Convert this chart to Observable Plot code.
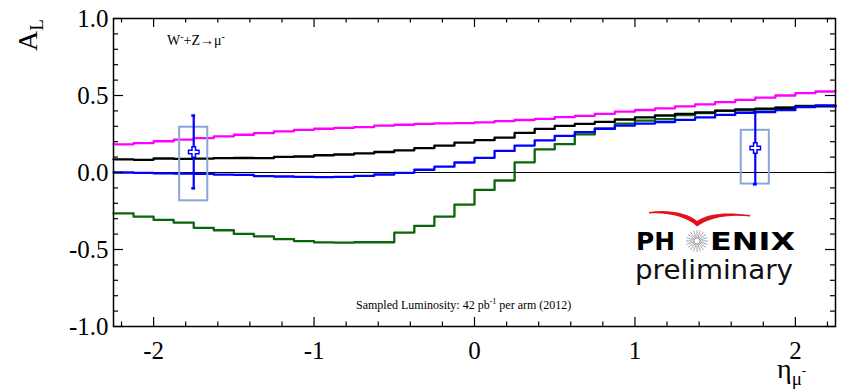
<!DOCTYPE html>
<html>
<head>
<meta charset="utf-8">
<script src="https://cdn.jsdelivr.net/npm/d3@7"></script>
<script src="https://cdn.jsdelivr.net/npm/@observablehq/plot@0.6"></script>
<style>
  html, body { margin: 0; padding: 0; background: #fff; }
  #chart { width: 843px; height: 392px; }
</style>
</head>
<body>
<div id="chart"></div>
<script>
// ---- Data ----
const binLow = -2.25;
const binWidth = 0.125;

const magentaAL = [0.183, 0.191, 0.203, 0.213, 0.223, 0.235, 0.245, 0.256, 0.267, 0.277,
  0.284, 0.290, 0.295, 0.305, 0.310, 0.316, 0.319, 0.321, 0.326, 0.334,
  0.341, 0.348, 0.359, 0.368, 0.381, 0.395, 0.406, 0.417, 0.430, 0.443,
  0.457, 0.472, 0.486, 0.500, 0.515, 0.526];

const blackAL = [0.085, 0.082, 0.091, 0.088, 0.090, 0.093, 0.094, 0.093, 0.101, 0.104,
  0.112, 0.117, 0.124, 0.133, 0.144, 0.158, 0.175, 0.194, 0.210, 0.226,
  0.257, 0.283, 0.303, 0.316, 0.329, 0.344, 0.358, 0.370, 0.381, 0.391,
  0.402, 0.410, 0.415, 0.420, 0.430, 0.430];

const blueAL = [0.000, -0.002, -0.006, -0.007, -0.009, -0.014, -0.015, -0.024, -0.026, -0.028,
  -0.030, -0.029, -0.022, -0.013, -0.002, 0.018, 0.038, 0.065, 0.095, 0.140,
  0.175, 0.208, 0.238, 0.262, 0.284, 0.305, 0.318, 0.328, 0.342, 0.358,
  0.374, 0.388, 0.393, 0.405, 0.425, 0.435];

const greenAL = [-0.266, -0.287, -0.308, -0.326, -0.359, -0.375, -0.399, -0.415, -0.433, -0.445,
  -0.454, -0.456, -0.453, -0.453, -0.390, -0.346, -0.286, -0.208, -0.113, -0.052,
  0.066, 0.150, 0.184, 0.247, 0.284, 0.318, 0.337, 0.346, 0.372, 0.386,
  0.400, 0.405, 0.410, 0.422, 0.433, 0.433];

// measured points
const ptEta   = [-1.75, 1.75];
const ptAL    = [0.133, 0.159];
const statLo  = [-0.103, -0.077];
const statHi  = [0.370, 0.391];
const sysLo   = [-0.184, -0.075];
const sysHi   = [0.294, 0.274];
const sysHalfWidth = 0.0875;

// ticks
const xMajor = [-2, -1, 0, 1, 2];
const xMinor = [-2.2, -1.8, -1.6, -1.4, -1.2, -0.8, -0.6, -0.4, -0.2, 0.2, 0.4, 0.6, 0.8, 1.2, 1.4, 1.6, 1.8, 2.2];
const yMajor = [-1, -0.5, 0, 0.5, 1];
const yMinor = [-0.9, -0.8, -0.7, -0.6, -0.4, -0.3, -0.2, -0.1, 0.1, 0.2, 0.3, 0.4, 0.6, 0.7, 0.8, 0.9];

// ---- Build step rows ----
function steps(vals) {
  const rows = vals.map((v, i) => ({x: binLow + i * binWidth, y: v}));
  rows.push({x: binLow + vals.length * binWidth, y: vals[vals.length - 1]});
  return rows;
}
const points = ptEta.map((e, i) => ({eta: e, al: ptAL[i], lo: statLo[i], hi: statHi[i], slo: sysLo[i], shi: sysHi[i]}));

const W = 843, H = 392;
const mL = 113, mR = 8, mT = 18, mB = 66;
const fw = W - mL - mR, fh = H - mT - mB;

const chart = Plot.plot({
  width: W, height: H,
  marginLeft: mL, marginRight: mR, marginTop: mT, marginBottom: mB,
  style: {fontFamily: "'Liberation Serif', 'DejaVu Serif', serif", fontSize: "25px", background: "#fff", color: "#000"},
  x: {domain: [-2.25, 2.25]},
  y: {domain: [-1, 1]},
  marks: [
    Plot.ruleY([0], {stroke: "#000", strokeWidth: 1}),
    Plot.line(steps(greenAL), {x: "x", y: "y", curve: "step-after", stroke: "#0b650b", strokeWidth: 2.3}),
    Plot.line(steps(blackAL), {x: "x", y: "y", curve: "step-after", stroke: "#000", strokeWidth: 2.3}),
    Plot.line(steps(blueAL), {x: "x", y: "y", curve: "step-after", stroke: "#0000ff", strokeWidth: 2.3}),
    Plot.line(steps(magentaAL), {x: "x", y: "y", curve: "step-after", stroke: "#ff00ff", strokeWidth: 2.3}),
    Plot.rect(points, {x1: d => d.eta - sysHalfWidth, x2: d => d.eta + sysHalfWidth, y1: "slo", y2: "shi", fill: "none", stroke: "#89a6d9", strokeWidth: 2}),
    Plot.ruleX(points, {x: "eta", y1: "lo", y2: "hi", stroke: "#0000ff", strokeWidth: 2.2}),
    Plot.ruleY(points, {y: "hi", x1: d => d.eta - 0.012, x2: d => d.eta + 0.012, stroke: "#0000ff", strokeWidth: 2.5}),
    Plot.ruleY(points, {y: "lo", x1: d => d.eta - 0.012, x2: d => d.eta + 0.012, stroke: "#0000ff", strokeWidth: 2.5}),
    Plot.dot(points, {x: "eta", y: "al", symbol: "cross", r: 4.4, fill: "#fff", stroke: "#0000ff", strokeWidth: 1.5}),
    // inward ticks
    Plot.tickX(xMajor, {x: d => d, insetTop: fh - 9, stroke: "#000", strokeWidth: 1.2}),
    Plot.tickX(xMinor, {x: d => d, insetTop: fh - 4.5, stroke: "#000", strokeWidth: 1.2}),
    Plot.tickX(xMajor, {x: d => d, insetBottom: fh - 9, stroke: "#000", strokeWidth: 1.2}),
    Plot.tickX(xMinor, {x: d => d, insetBottom: fh - 4.5, stroke: "#000", strokeWidth: 1.2}),
    Plot.tickY(yMajor, {y: d => d, insetRight: fw - 10, stroke: "#000", strokeWidth: 1.2}),
    Plot.tickY(yMinor, {y: d => d, insetRight: fw - 5, stroke: "#000", strokeWidth: 1.2}),
    Plot.tickY(yMajor, {y: d => d, insetLeft: fw - 10, stroke: "#000", strokeWidth: 1.2}),
    Plot.tickY(yMinor, {y: d => d, insetLeft: fw - 5, stroke: "#000", strokeWidth: 1.2}),
    Plot.axisX({ticks: xMajor, tickSize: 0, tickPadding: 15, tickFormat: d => String(d), label: null, fontSize: 25}),
    Plot.axisY({ticks: yMajor, tickSize: 0, tickPadding: 5, tickFormat: d => d.toFixed(1), label: null, fontSize: 25}),
    Plot.frame({stroke: "#000", strokeWidth: 1.5})
  ]
});

document.getElementById("chart").appendChild(chart);

// ---- Annotations ----
const svg = d3.select(chart);
const serif = "'Liberation Serif', 'DejaVu Serif', serif";
const ann = svg.append("g").attr("text-anchor", "start");

// y-axis title A_L
const yt = ann.append("text")
  .attr("transform", "translate(37,51) rotate(-90)")
  .attr("font-family", serif).attr("font-size", 28).attr("fill", "#000");
yt.append("tspan").text("A");
yt.append("tspan").attr("font-size", 19).attr("dy", 6).text("L");

// x-axis title eta_mu-
const xt = ann.append("text")
  .attr("x", 777).attr("y", 378)
  .attr("font-family", serif).attr("font-size", 28).attr("fill", "#000");
xt.append("tspan").text("η");
xt.append("tspan").attr("font-size", 19).attr("dy", 7).text("μ");
xt.append("tspan").attr("font-size", 13).attr("dy", -10).text("-");

// reaction label
const rl = ann.append("text")
  .attr("x", 167).attr("y", 45)
  .attr("font-family", serif).attr("font-size", 14).attr("fill", "#000");
rl.append("tspan").text("W");
rl.append("tspan").attr("font-size", 10).attr("dy", -5).text("-");
rl.append("tspan").attr("dy", 5).text("+Z→μ");
rl.append("tspan").attr("font-size", 10).attr("dy", -5).text("-");

// luminosity
const lum = ann.append("text")
  .attr("x", 356).attr("y", 309)
  .attr("font-family", serif).attr("font-size", 12).attr("fill", "#000");
lum.append("tspan").text("Sampled Luminosity: 42 pb");
lum.append("tspan").attr("font-size", 8).attr("dy", -5).text("-1");
lum.append("tspan").attr("dy", 5).text(" per arm (2012)");

// PHENIX preliminary logo
const sans = "'DejaVu Sans', 'Liberation Sans', sans-serif";
ann.append("path")
  .attr("d", "M649,212 C668,209 688,213 697,221 C708,213 728,212 750,215 L750,216.5 C729,214 710,217 697,226.5 C688,217 668,212 649,213.5 Z")
  .attr("fill", "#e5101a");
ann.append("text").attr("x", 636).attr("y", 250)
  .attr("font-family", sans).attr("font-weight", "bold").attr("font-size", 24)
  .attr("textLength", 39).attr("lengthAdjust", "spacingAndGlyphs").attr("fill", "#000").text("PH");
ann.append("text").attr("x", 710).attr("y", 250)
  .attr("font-family", sans).attr("font-weight", "bold").attr("font-size", 24)
  .attr("textLength", 85).attr("lengthAdjust", "spacingAndGlyphs").attr("fill", "#000").text("ENIX");
const star = ann.append("g").attr("transform", "translate(697,241)");
for (let i = 0; i < 20; i++) {
  const a = i * Math.PI / 10;
  star.append("line")
    .attr("x1", 3.5 * Math.cos(a)).attr("y1", 3.5 * Math.sin(a))
    .attr("x2", 11 * Math.cos(a)).attr("y2", 11 * Math.sin(a))
    .attr("stroke", "#999").attr("stroke-width", 0.9);
}
star.append("circle").attr("r", 3).attr("fill", "#fff").attr("stroke", "#999").attr("stroke-width", 1);
ann.append("text").attr("x", 635).attr("y", 279)
  .attr("font-family", sans).attr("font-size", 26)
  .attr("textLength", 158).attr("lengthAdjust", "spacingAndGlyphs").attr("fill", "#111").text("preliminary");
</script>
</body>
</html>
